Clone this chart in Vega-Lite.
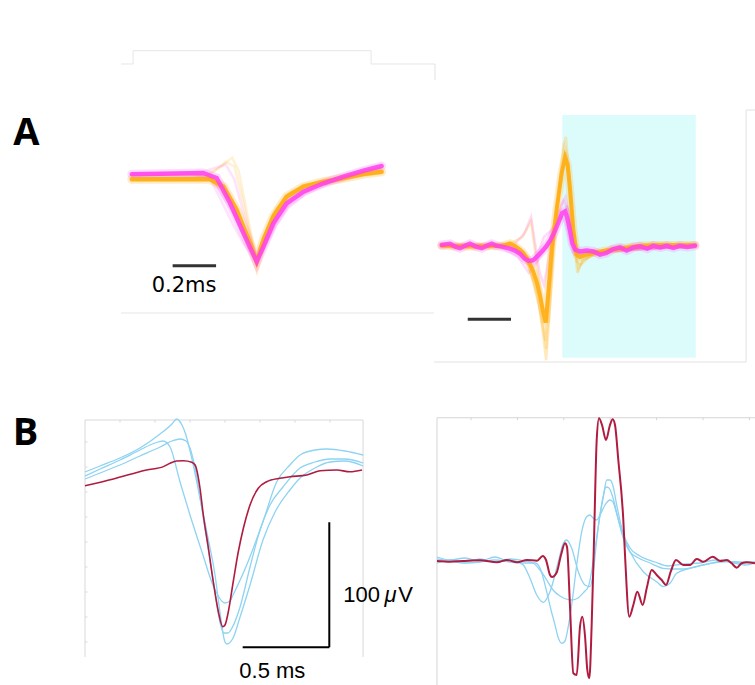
{
  "$schema": "https://vega.github.io/schema/vega-lite/v6.json",
  "padding": 0,
  "autosize": {"type": "pad"},
  "bounds": "flush",
  "spacing": 0,
  "columns": 2,
  "background": "white",
  "config": {"view": {"stroke": null}, "concat": {"spacing": 0}},
  "resolve": {"scale": {"x": "independent", "y": "independent"}},
  "datasets": {
    "a1_frame": [
      {"t": -0.581, "v": 1.429, "t2": 0.526, "v2": 1.429},
      {"t": -0.581, "v": 1.429, "t2": -0.581, "v2": 1.276},
      {"t": 0.526, "v": 1.429, "t2": 0.526, "v2": 1.276},
      {"t": -0.637, "v": 1.276, "t2": -0.581, "v2": 1.276},
      {"t": 0.526, "v": 1.276, "t2": 0.8186, "v2": 1.276},
      {"t": -0.637, "v": -1.586, "t2": 0.8186, "v2": -1.586}
    ],
    "a1_bar": [{"t": -0.397, "v": -1.043, "t2": -0.195, "v2": -1.043}],
    "a1_label": [{"label": "A", "t": -1.077, "v": 0.345}],
    "a1_text": [{"label": "0.2ms", "t": -0.344, "v": -1.341}],
    "a1_ofaint": [
      {"s": "o1", "t": -0.587, "v": -0.05}, {"s": "o1", "t": -0.3, "v": -0.04}, {"s": "o1", "t": -0.2, "v": 0.05}, {"s": "o1", "t": -0.15, "v": 0.15}, {"s": "o1", "t": -0.11, "v": 0.1}, {"s": "o1", "t": -0.07, "v": -0.3}, {"s": "o1", "t": -0.03, "v": -0.75}, {"s": "o1", "t": -0.006, "v": -0.97}, {"s": "o1", "t": 0.03, "v": -0.7}, {"s": "o1", "t": 0.08, "v": -0.4}, {"s": "o1", "t": 0.15, "v": -0.2}, {"s": "o1", "t": 0.25, "v": -0.1}, {"s": "o1", "t": 0.4, "v": -0.03}, {"s": "o1", "t": 0.575, "v": 0.04},
      {"s": "o2", "t": -0.587, "v": -0.04}, {"s": "o2", "t": -0.25, "v": -0.03}, {"s": "o2", "t": -0.17, "v": 0.1}, {"s": "o2", "t": -0.12, "v": 0.2}, {"s": "o2", "t": -0.09, "v": 0.05}, {"s": "o2", "t": -0.05, "v": -0.45}, {"s": "o2", "t": -0.006, "v": -0.99}, {"s": "o2", "t": 0.02, "v": -0.8}, {"s": "o2", "t": 0.06, "v": -0.55}, {"s": "o2", "t": 0.12, "v": -0.3}, {"s": "o2", "t": 0.2, "v": -0.14}, {"s": "o2", "t": 0.35, "v": -0.05}, {"s": "o2", "t": 0.575, "v": 0.03},
      {"s": "o3", "t": -0.587, "v": -0.06}, {"s": "o3", "t": -0.22, "v": -0.06}, {"s": "o3", "t": -0.16, "v": -0.12}, {"s": "o3", "t": -0.1, "v": -0.38}, {"s": "o3", "t": -0.05, "v": -0.7}, {"s": "o3", "t": -0.006, "v": -0.99}, {"s": "o3", "t": 0.025, "v": -0.72}, {"s": "o3", "t": 0.07, "v": -0.45}, {"s": "o3", "t": 0.13, "v": -0.24}, {"s": "o3", "t": 0.21, "v": -0.12}, {"s": "o3", "t": 0.32, "v": -0.06}, {"s": "o3", "t": 0.45, "v": -0.02}, {"s": "o3", "t": 0.575, "v": 0.02}
    ],
    "a1_pfaint": [
      {"s": "p1", "t": -0.587, "v": 0.01}, {"s": "p1", "t": -0.3, "v": 0.01}, {"s": "p1", "t": -0.22, "v": -0.05}, {"s": "p1", "t": -0.17, "v": -0.3}, {"s": "p1", "t": -0.12, "v": -0.55}, {"s": "p1", "t": -0.07, "v": -0.78}, {"s": "p1", "t": -0.006, "v": -0.99}, {"s": "p1", "t": 0.03, "v": -0.85}, {"s": "p1", "t": 0.08, "v": -0.6}, {"s": "p1", "t": 0.14, "v": -0.38}, {"s": "p1", "t": 0.22, "v": -0.22}, {"s": "p1", "t": 0.33, "v": -0.1}, {"s": "p1", "t": 0.45, "v": 0.01}, {"s": "p1", "t": 0.575, "v": 0.1},
      {"s": "p2", "t": -0.587, "v": 0.02}, {"s": "p2", "t": -0.28, "v": 0.02}, {"s": "p2", "t": -0.2, "v": 0.08}, {"s": "p2", "t": -0.15, "v": 0.12}, {"s": "p2", "t": -0.11, "v": -0.05}, {"s": "p2", "t": -0.06, "v": -0.5}, {"s": "p2", "t": -0.006, "v": -0.98}, {"s": "p2", "t": 0.03, "v": -0.82}, {"s": "p2", "t": 0.08, "v": -0.56}, {"s": "p2", "t": 0.14, "v": -0.34}, {"s": "p2", "t": 0.22, "v": -0.2}, {"s": "p2", "t": 0.33, "v": -0.09}, {"s": "p2", "t": 0.45, "v": 0.0}, {"s": "p2", "t": 0.575, "v": 0.09},
      {"s": "p3", "t": -0.587, "v": 0.0}, {"s": "p3", "t": -0.26, "v": 0.0}, {"s": "p3", "t": -0.2, "v": -0.1}, {"s": "p3", "t": -0.15, "v": -0.3}, {"s": "p3", "t": -0.1, "v": -0.5}, {"s": "p3", "t": -0.05, "v": -0.75}, {"s": "p3", "t": -0.006, "v": -1.0}, {"s": "p3", "t": 0.035, "v": -0.8}, {"s": "p3", "t": 0.09, "v": -0.5}, {"s": "p3", "t": 0.16, "v": -0.28}, {"s": "p3", "t": 0.26, "v": -0.14}, {"s": "p3", "t": 0.4, "v": -0.03}, {"s": "p3", "t": 0.575, "v": 0.08}
    ],
    "a1_orange": [
      {"t": -0.587, "v": -0.049}, {"t": -0.223, "v": -0.049}, {"t": -0.161, "v": -0.134}, {"t": -0.099, "v": -0.402}, {"t": -0.037, "v": -0.785}, {"t": -0.006, "v": -0.997}, {"t": 0.025, "v": -0.747}, {"t": 0.071, "v": -0.479}, {"t": 0.133, "v": -0.249}, {"t": 0.211, "v": -0.134}, {"t": 0.304, "v": -0.077}, {"t": 0.397, "v": -0.038}, {"t": 0.49, "v": 0.011}, {"t": 0.575, "v": 0.038}
    ],
    "a1_magenta": [
      {"t": -0.587, "v": 0.008}, {"t": -0.256, "v": 0.023}, {"t": -0.192, "v": -0.034}, {"t": -0.13, "v": -0.322}, {"t": -0.068, "v": -0.667}, {"t": -0.006, "v": -0.997}, {"t": 0.025, "v": -0.824}, {"t": 0.071, "v": -0.555}, {"t": 0.133, "v": -0.325}, {"t": 0.211, "v": -0.192}, {"t": 0.304, "v": -0.095}, {"t": 0.397, "v": -0.02}, {"t": 0.49, "v": 0.049}, {"t": 0.575, "v": 0.103}
    ],
    "a2_rect": [{"t": 0.605, "v": 1.625, "t2": 1.225, "v2": -1.409}],
    "a2_frame": [
      {"t": 0, "v": 2.2625, "t2": 0.0139, "v2": 2.2625},
      {"t": 0.0139, "v": 2.2625, "t2": 0.0139, "v2": 2.0625},
      {"t": 0.0046, "v": -0.85, "t2": 0.0046, "v2": -1.4625},
      {"t": 0.0046, "v": -1.4625, "t2": 1.4586, "v2": -1.4625},
      {"t": 1.4586, "v": 1.6875, "t2": 1.4586, "v2": -1.4625},
      {"t": 1.4586, "v": 1.6875, "t2": 1.5, "v2": 1.6875}
    ],
    "a2_bar": [{"t": 0.166, "v": -0.929, "t2": 0.367, "v2": -0.929}],
    "a2_ofaint": [
      {"s": "f1", "t": 0.045, "v": 0}, {"s": "f1", "t": 0.36, "v": 0}, {"s": "f1", "t": 0.44, "v": -0.2}, {"s": "f1", "t": 0.49, "v": -0.6}, {"s": "f1", "t": 0.515, "v": -1.1}, {"s": "f1", "t": 0.53, "v": -1.44}, {"s": "f1", "t": 0.545, "v": -0.9}, {"s": "f1", "t": 0.565, "v": 0.0}, {"s": "f1", "t": 0.59, "v": 0.7}, {"s": "f1", "t": 0.61, "v": 1.25}, {"s": "f1", "t": 0.622, "v": 1.35}, {"s": "f1", "t": 0.64, "v": 0.8}, {"s": "f1", "t": 0.66, "v": 0.1}, {"s": "f1", "t": 0.68, "v": -0.3}, {"s": "f1", "t": 0.7, "v": -0.2}, {"s": "f1", "t": 0.75, "v": -0.12}, {"s": "f1", "t": 0.9, "v": -0.05}, {"s": "f1", "t": 1.222, "v": 0},
      {"s": "f2", "t": 0.045, "v": 0.01}, {"s": "f2", "t": 0.38, "v": 0.01}, {"s": "f2", "t": 0.45, "v": -0.25}, {"s": "f2", "t": 0.5, "v": -0.8}, {"s": "f2", "t": 0.525, "v": -1.2}, {"s": "f2", "t": 0.55, "v": -0.4}, {"s": "f2", "t": 0.58, "v": 0.5}, {"s": "f2", "t": 0.61, "v": 1.0}, {"s": "f2", "t": 0.628, "v": 1.0}, {"s": "f2", "t": 0.65, "v": 0.3}, {"s": "f2", "t": 0.67, "v": -0.2}, {"s": "f2", "t": 0.69, "v": -0.25}, {"s": "f2", "t": 0.75, "v": -0.1}, {"s": "f2", "t": 1.222, "v": 0},
      {"s": "f3", "t": 0.045, "v": -0.01}, {"s": "f3", "t": 0.35, "v": 0.0}, {"s": "f3", "t": 0.42, "v": 0.1}, {"s": "f3", "t": 0.46, "v": 0.3}, {"s": "f3", "t": 0.48, "v": -0.1}, {"s": "f3", "t": 0.51, "v": -0.7}, {"s": "f3", "t": 0.53, "v": -1.3}, {"s": "f3", "t": 0.548, "v": -0.6}, {"s": "f3", "t": 0.57, "v": 0.2}, {"s": "f3", "t": 0.6, "v": 0.8}, {"s": "f3", "t": 0.62, "v": 1.15}, {"s": "f3", "t": 0.635, "v": 0.9}, {"s": "f3", "t": 0.655, "v": 0.2}, {"s": "f3", "t": 0.675, "v": -0.35}, {"s": "f3", "t": 0.7, "v": -0.18}, {"s": "f3", "t": 0.8, "v": -0.06}, {"s": "f3", "t": 1.222, "v": 0.0}
    ],
    "a2_pfaint": [
      {"s": "q1", "t": 0.045, "v": 0.0}, {"s": "q1", "t": 0.3, "v": 0.0}, {"s": "q1", "t": 0.4, "v": -0.15}, {"s": "q1", "t": 0.45, "v": -0.35}, {"s": "q1", "t": 0.48, "v": -0.25}, {"s": "q1", "t": 0.5, "v": -0.15}, {"s": "q1", "t": 0.54, "v": 0.0}, {"s": "q1", "t": 0.58, "v": 0.3}, {"s": "q1", "t": 0.61, "v": 0.55}, {"s": "q1", "t": 0.63, "v": 0.45}, {"s": "q1", "t": 0.65, "v": 0.05}, {"s": "q1", "t": 0.67, "v": -0.1}, {"s": "q1", "t": 0.72, "v": -0.08}, {"s": "q1", "t": 1.222, "v": -0.02},
      {"s": "q2", "t": 0.045, "v": 0.0}, {"s": "q2", "t": 0.35, "v": -0.02}, {"s": "q2", "t": 0.42, "v": -0.1}, {"s": "q2", "t": 0.46, "v": -0.22}, {"s": "q2", "t": 0.49, "v": -0.12}, {"s": "q2", "t": 0.52, "v": 0.1}, {"s": "q2", "t": 0.56, "v": 0.2}, {"s": "q2", "t": 0.6, "v": 0.35}, {"s": "q2", "t": 0.62, "v": 0.3}, {"s": "q2", "t": 0.645, "v": 0.0}, {"s": "q2", "t": 0.66, "v": -0.12}, {"s": "q2", "t": 0.7, "v": -0.1}, {"s": "q2", "t": 0.8, "v": -0.08}, {"s": "q2", "t": 1.222, "v": -0.02},
      {"s": "q3", "t": 0.045, "v": 0.0}, {"s": "q3", "t": 0.38, "v": 0.0}, {"s": "q3", "t": 0.43, "v": 0.15}, {"s": "q3", "t": 0.46, "v": 0.35}, {"s": "q3", "t": 0.48, "v": 0.0}, {"s": "q3", "t": 0.5, "v": -0.35}, {"s": "q3", "t": 0.52, "v": -0.5}, {"s": "q3", "t": 0.54, "v": -0.2}, {"s": "q3", "t": 0.57, "v": 0.2}, {"s": "q3", "t": 0.6, "v": 0.5}, {"s": "q3", "t": 0.62, "v": 0.6}, {"s": "q3", "t": 0.64, "v": 0.3}, {"s": "q3", "t": 0.66, "v": 0.0}, {"s": "q3", "t": 0.68, "v": -0.12}, {"s": "q3", "t": 0.75, "v": -0.08}, {"s": "q3", "t": 1.222, "v": -0.01}
    ],
    "a2_orange": [
      {"t": 0.045, "v": -0.01}, {"t": 0.13, "v": -0.02}, {"t": 0.231, "v": -0.02}, {"t": 0.324, "v": -0.01}, {"t": 0.362, "v": 0.02}, {"t": 0.39, "v": -0.02}, {"t": 0.409, "v": -0.06}, {"t": 0.425, "v": -0.1}, {"t": 0.44, "v": -0.16}, {"t": 0.455, "v": -0.24}, {"t": 0.47, "v": -0.33}, {"t": 0.486, "v": -0.46}, {"t": 0.502, "v": -0.64}, {"t": 0.517, "v": -0.85}, {"t": 0.528, "v": -0.97}, {"t": 0.54, "v": -0.6}, {"t": 0.556, "v": -0.05}, {"t": 0.579, "v": 0.45}, {"t": 0.602, "v": 0.9}, {"t": 0.618, "v": 1.1}, {"t": 0.63, "v": 1.0}, {"t": 0.641, "v": 0.7}, {"t": 0.656, "v": 0.2}, {"t": 0.672, "v": -0.12}, {"t": 0.687, "v": -0.15}, {"t": 0.72, "v": -0.12}, {"t": 0.749, "v": -0.1}, {"t": 0.827, "v": -0.06}, {"t": 0.904, "v": -0.03}, {"t": 0.966, "v": -0.01}, {"t": 1.028, "v": 0.0}, {"t": 1.121, "v": 0.0}, {"t": 1.222, "v": 0.0}
    ],
    "a2_magenta": [
      {"t": 0.045, "v": 0.0}, {"t": 0.084, "v": 0.015}, {"t": 0.107, "v": -0.02}, {"t": 0.13, "v": -0.04}, {"t": 0.153, "v": -0.01}, {"t": 0.176, "v": 0.015}, {"t": 0.204, "v": -0.02}, {"t": 0.231, "v": -0.04}, {"t": 0.254, "v": -0.01}, {"t": 0.277, "v": 0.015}, {"t": 0.3, "v": -0.01}, {"t": 0.324, "v": -0.02}, {"t": 0.362, "v": -0.045}, {"t": 0.385, "v": -0.07}, {"t": 0.409, "v": -0.11}, {"t": 0.43, "v": -0.17}, {"t": 0.45, "v": -0.2}, {"t": 0.47, "v": -0.19}, {"t": 0.49, "v": -0.14}, {"t": 0.51, "v": -0.08}, {"t": 0.53, "v": -0.02}, {"t": 0.55, "v": 0.06}, {"t": 0.57, "v": 0.17}, {"t": 0.59, "v": 0.3}, {"t": 0.605, "v": 0.4}, {"t": 0.618, "v": 0.42}, {"t": 0.63, "v": 0.32}, {"t": 0.641, "v": 0.18}, {"t": 0.652, "v": 0.02}, {"t": 0.665, "v": -0.06}, {"t": 0.687, "v": -0.08}, {"t": 0.718, "v": -0.07}, {"t": 0.749, "v": -0.08}, {"t": 0.78, "v": -0.12}, {"t": 0.81, "v": -0.1}, {"t": 0.841, "v": -0.05}, {"t": 0.873, "v": -0.03}, {"t": 0.904, "v": -0.07}, {"t": 0.935, "v": -0.03}, {"t": 0.966, "v": -0.015}, {"t": 1.0, "v": -0.045}, {"t": 1.028, "v": -0.01}, {"t": 1.06, "v": -0.03}, {"t": 1.09, "v": -0.01}, {"t": 1.121, "v": -0.035}, {"t": 1.15, "v": -0.01}, {"t": 1.185, "v": -0.025}, {"t": 1.222, "v": -0.01}
    ],
    "b1_frame": [
      {"t": 0, "v": 57.6, "t2": 1.589, "v2": 57.6},
      {"t": 0, "v": 57.6, "t2": 0, "v2": -132},
      {"t": 1.589, "v": 57.6, "t2": 1.589, "v2": -132},
      {"t": 0.2, "v": 57.6, "t2": 0.2, "v2": 55.6}, {"t": 0.4, "v": 57.6, "t2": 0.4, "v2": 55.6}, {"t": 0.6, "v": 57.6, "t2": 0.6, "v2": 55.6}, {"t": 0.8, "v": 57.6, "t2": 0.8, "v2": 55.6}, {"t": 1.0, "v": 57.6, "t2": 1.0, "v2": 55.6}, {"t": 1.2, "v": 57.6, "t2": 1.2, "v2": 55.6}, {"t": 1.4, "v": 57.6, "t2": 1.4, "v2": 55.6},
      {"t": 0, "v": 40, "t2": 0.014, "v2": 40}, {"t": 0, "v": 20, "t2": 0.014, "v2": 20}, {"t": 0, "v": 0, "t2": 0.014, "v2": 0}, {"t": 0, "v": -20, "t2": 0.014, "v2": -20}, {"t": 0, "v": -40, "t2": 0.014, "v2": -40}, {"t": 0, "v": -60, "t2": 0.014, "v2": -60}, {"t": 0, "v": -80, "t2": 0.014, "v2": -80}, {"t": 0, "v": -100, "t2": 0.014, "v2": -100}, {"t": 0, "v": -120, "t2": 0.014, "v2": -120}
    ],
    "b1_bar": [
      {"t": 0.901, "v": -124.2, "t2": 1.396, "v2": -124.2},
      {"t": 1.396, "v": -24.2, "t2": 1.396, "v2": -124.2}
    ],
    "b1_label": [{"label": "B", "t": -0.34, "v": 37.6}],
    "b1_text": [
      {"label": "100", "t": 1.476, "v": -87.8},
      {"label": "V", "t": 1.79, "v": -87.8},
      {"label": "0.5 ms", "t": 0.882, "v": -148.5}
    ],
    "b1_italic": [{"label": "μ", "t": 1.712, "v": -87.8}],
    "b1_blue": [
      {"s": "A", "t": 0, "v": 16}, {"s": "A", "t": 0.086, "v": 20.8}, {"s": "A", "t": 0.2, "v": 27.2}, {"s": "A", "t": 0.314, "v": 35.2}, {"s": "A", "t": 0.429, "v": 46.4}, {"s": "A", "t": 0.497, "v": 54.4}, {"s": "A", "t": 0.524, "v": 58.4}, {"s": "A", "t": 0.554, "v": 53.6}, {"s": "A", "t": 0.571, "v": 48}, {"s": "A", "t": 0.61, "v": 27.2}, {"s": "A", "t": 0.657, "v": -4.8}, {"s": "A", "t": 0.703, "v": -36.8}, {"s": "A", "t": 0.743, "v": -66.4}, {"s": "A", "t": 0.771, "v": -96}, {"s": "A", "t": 0.8, "v": -120}, {"s": "A", "t": 0.811, "v": -121.6}, {"s": "A", "t": 0.846, "v": -116.8}, {"s": "A", "t": 0.886, "v": -100}, {"s": "A", "t": 0.943, "v": -74.4}, {"s": "A", "t": 1.017, "v": -38.4}, {"s": "A", "t": 1.086, "v": -16}, {"s": "A", "t": 1.171, "v": 1.6}, {"s": "A", "t": 1.229, "v": 11.2}, {"s": "A", "t": 1.314, "v": 19.2}, {"s": "A", "t": 1.4, "v": 24}, {"s": "A", "t": 1.486, "v": 24.8}, {"s": "A", "t": 1.589, "v": 20.8},
      {"s": "B", "t": 0, "v": 12.8}, {"s": "B", "t": 0.086, "v": 18.4}, {"s": "B", "t": 0.2, "v": 25.6}, {"s": "B", "t": 0.314, "v": 33.6}, {"s": "B", "t": 0.4, "v": 39.2}, {"s": "B", "t": 0.446, "v": 40.8}, {"s": "B", "t": 0.486, "v": 36}, {"s": "B", "t": 0.543, "v": 8}, {"s": "B", "t": 0.6, "v": -18.4}, {"s": "B", "t": 0.674, "v": -50.4}, {"s": "B", "t": 0.731, "v": -74.4}, {"s": "B", "t": 0.8, "v": -88.8}, {"s": "B", "t": 0.829, "v": -87.2}, {"s": "B", "t": 0.846, "v": -82.4}, {"s": "B", "t": 0.924, "v": -58.4}, {"s": "B", "t": 1.017, "v": -23.8}, {"s": "B", "t": 1.095, "v": 8}, {"s": "B", "t": 1.171, "v": 21.6}, {"s": "B", "t": 1.229, "v": 29.6}, {"s": "B", "t": 1.314, "v": 33.6}, {"s": "B", "t": 1.383, "v": 34.4}, {"s": "B", "t": 1.486, "v": 32.8}, {"s": "B", "t": 1.589, "v": 29.6},
      {"s": "C", "t": 0, "v": 10.4}, {"s": "C", "t": 0.086, "v": 15.2}, {"s": "C", "t": 0.2, "v": 21.6}, {"s": "C", "t": 0.314, "v": 28.8}, {"s": "C", "t": 0.429, "v": 36}, {"s": "C", "t": 0.497, "v": 40.8}, {"s": "C", "t": 0.543, "v": 42.4}, {"s": "C", "t": 0.577, "v": 40.8}, {"s": "C", "t": 0.6, "v": 35.2}, {"s": "C", "t": 0.629, "v": 19.2}, {"s": "C", "t": 0.667, "v": -12.8}, {"s": "C", "t": 0.703, "v": -44.8}, {"s": "C", "t": 0.743, "v": -80}, {"s": "C", "t": 0.771, "v": -104}, {"s": "C", "t": 0.794, "v": -112.8}, {"s": "C", "t": 0.817, "v": -112.8}, {"s": "C", "t": 0.84, "v": -108.8}, {"s": "C", "t": 0.886, "v": -92}, {"s": "C", "t": 0.943, "v": -60}, {"s": "C", "t": 1.0, "v": -30.4}, {"s": "C", "t": 1.057, "v": -10.4}, {"s": "C", "t": 1.131, "v": 4}, {"s": "C", "t": 1.229, "v": 19.2}, {"s": "C", "t": 1.314, "v": 24}, {"s": "C", "t": 1.4, "v": 26.4}, {"s": "C", "t": 1.486, "v": 26.4}, {"s": "C", "t": 1.589, "v": 23.2}
    ],
    "b1_red": [
      {"t": 0, "v": 5.0}, {"t": 0.162, "v": 10.4}, {"t": 0.352, "v": 17.6}, {"t": 0.448, "v": 20.3}, {"t": 0.486, "v": 23}, {"t": 0.524, "v": 24.8}, {"t": 0.562, "v": 25}, {"t": 0.61, "v": 23.8}, {"t": 0.629, "v": 21.6}, {"t": 0.657, "v": 3.2}, {"t": 0.676, "v": -18.4}, {"t": 0.705, "v": -44.8}, {"t": 0.733, "v": -71.8}, {"t": 0.762, "v": -95.8}, {"t": 0.787, "v": -107.8}, {"t": 0.8, "v": -106.4}, {"t": 0.819, "v": -95.8}, {"t": 0.847, "v": -71.8}, {"t": 0.876, "v": -47.8}, {"t": 0.905, "v": -29}, {"t": 0.943, "v": -10.4}, {"t": 0.99, "v": 3}, {"t": 1.038, "v": 8.2}, {"t": 1.114, "v": 11}, {"t": 1.171, "v": 12.2}, {"t": 1.267, "v": 13.6}, {"t": 1.343, "v": 17}, {"t": 1.438, "v": 17.6}, {"t": 1.514, "v": 16.2}, {"t": 1.583, "v": 17.6}
    ],
    "b2_frame": [
      {"t": 0.0534, "v": 115.4, "t2": 1.4241, "v2": 115.4},
      {"t": 0.0534, "v": 115.4, "t2": 0.0534, "v2": -98.4},
      {"t": 0.2, "v": 115.4, "t2": 0.2, "v2": 113.4}, {"t": 0.4, "v": 115.4, "t2": 0.4, "v2": 113.4}, {"t": 0.6, "v": 115.4, "t2": 0.6, "v2": 113.4}, {"t": 0.8, "v": 115.4, "t2": 0.8, "v2": 113.4}, {"t": 1.0, "v": 115.4, "t2": 1.0, "v2": 113.4}, {"t": 1.2, "v": 115.4, "t2": 1.2, "v2": 113.4}, {"t": 1.4, "v": 115.4, "t2": 1.4, "v2": 113.4}
    ],
    "b2_blue": [
      {"s": "D", "t": 0.0534, "v": 2.4}, {"s": "D", "t": 0.1099, "v": 0.8}, {"s": "D", "t": 0.1741, "v": -0.8}, {"s": "D", "t": 0.2388, "v": 0}, {"s": "D", "t": 0.3034, "v": 1.6}, {"s": "D", "t": 0.3681, "v": 0}, {"s": "D", "t": 0.4328, "v": -0.8}, {"s": "D", "t": 0.4759, "v": -0.8}, {"s": "D", "t": 0.4974, "v": -4.8}, {"s": "D", "t": 0.5263, "v": -23.76}, {"s": "D", "t": 0.5448, "v": -38.4}, {"s": "D", "t": 0.5621, "v": -50.4}, {"s": "D", "t": 0.575, "v": -60}, {"s": "D", "t": 0.5909, "v": -65.04}, {"s": "D", "t": 0.6052, "v": -63.2}, {"s": "D", "t": 0.6181, "v": -52.8}, {"s": "D", "t": 0.634, "v": -34.4}, {"s": "D", "t": 0.6556, "v": -2.4}, {"s": "D", "t": 0.6772, "v": 24.24}, {"s": "D", "t": 0.6987, "v": 36.24}, {"s": "D", "t": 0.7129, "v": 37.6}, {"s": "D", "t": 0.7259, "v": 35.2}, {"s": "D", "t": 0.7418, "v": 33.6}, {"s": "D", "t": 0.756, "v": 37.6}, {"s": "D", "t": 0.7776, "v": 45.6}, {"s": "D", "t": 0.7991, "v": 49.6}, {"s": "D", "t": 0.8108, "v": 48.24}, {"s": "D", "t": 0.8293, "v": 37.6}, {"s": "D", "t": 0.8565, "v": 18.96}, {"s": "D", "t": 0.8853, "v": 8}, {"s": "D", "t": 0.9142, "v": 4}, {"s": "D", "t": 0.9716, "v": -0.8}, {"s": "D", "t": 1.0289, "v": -5.04}, {"s": "D", "t": 1.0707, "v": -5.6}, {"s": "D", "t": 1.1151, "v": -5.6}, {"s": "D", "t": 1.1655, "v": -4}, {"s": "D", "t": 1.216, "v": -1.84}, {"s": "D", "t": 1.2875, "v": 0.8}, {"s": "D", "t": 1.3595, "v": -0.8}, {"s": "D", "t": 1.4241, "v": 0},
      {"s": "E", "t": 0.0534, "v": 4}, {"s": "E", "t": 0.1099, "v": 1.6}, {"s": "E", "t": 0.1741, "v": 3.2}, {"s": "E", "t": 0.2388, "v": 0.8}, {"s": "E", "t": 0.3034, "v": 4}, {"s": "E", "t": 0.3466, "v": 1.6}, {"s": "E", "t": 0.3897, "v": 0.8}, {"s": "E", "t": 0.4254, "v": -2.4}, {"s": "E", "t": 0.4543, "v": -13.04}, {"s": "E", "t": 0.4832, "v": -26.4}, {"s": "E", "t": 0.5116, "v": -32.24}, {"s": "E", "t": 0.5405, "v": -23.76}, {"s": "E", "t": 0.5763, "v": 0.24}, {"s": "E", "t": 0.5966, "v": 14.4}, {"s": "E", "t": 0.6125, "v": 17.6}, {"s": "E", "t": 0.6341, "v": 10.96}, {"s": "E", "t": 0.6625, "v": -7.76}, {"s": "E", "t": 0.6914, "v": -18.4}, {"s": "E", "t": 0.7129, "v": -19.76}, {"s": "E", "t": 0.7272, "v": -8}, {"s": "E", "t": 0.7418, "v": 17.6}, {"s": "E", "t": 0.756, "v": 37.6}, {"s": "E", "t": 0.7703, "v": 52}, {"s": "E", "t": 0.7849, "v": 65.6}, {"s": "E", "t": 0.7991, "v": 65.6}, {"s": "E", "t": 0.8121, "v": 60.8}, {"s": "E", "t": 0.828, "v": 45.6}, {"s": "E", "t": 0.8552, "v": 23.2}, {"s": "E", "t": 0.8853, "v": 11.2}, {"s": "E", "t": 0.9284, "v": 4.8}, {"s": "E", "t": 0.9931, "v": 0}, {"s": "E", "t": 1.0491, "v": -3.2}, {"s": "E", "t": 1.1138, "v": -1.6}, {"s": "E", "t": 1.1871, "v": -0.8}, {"s": "E", "t": 1.2517, "v": 1.6}, {"s": "E", "t": 1.3164, "v": 0}, {"s": "E", "t": 1.381, "v": -2.4}, {"s": "E", "t": 1.4241, "v": -0.8},
      {"s": "F", "t": 0.0534, "v": -0.8}, {"s": "F", "t": 0.1099, "v": 1.6}, {"s": "F", "t": 0.1741, "v": 0}, {"s": "F", "t": 0.2388, "v": 2.4}, {"s": "F", "t": 0.3034, "v": 0}, {"s": "F", "t": 0.3681, "v": 2.4}, {"s": "F", "t": 0.4328, "v": 0.8}, {"s": "F", "t": 0.4672, "v": -0.8}, {"s": "F", "t": 0.4974, "v": -6.4}, {"s": "F", "t": 0.5263, "v": -14.4}, {"s": "F", "t": 0.5534, "v": -22.4}, {"s": "F", "t": 0.5836, "v": -27.2}, {"s": "F", "t": 0.6095, "v": -29.6}, {"s": "F", "t": 0.634, "v": -30.4}, {"s": "F", "t": 0.6612, "v": -28.8}, {"s": "F", "t": 0.6871, "v": -24}, {"s": "F", "t": 0.7056, "v": -19.76}, {"s": "F", "t": 0.7172, "v": -10.4}, {"s": "F", "t": 0.7272, "v": 1.6}, {"s": "F", "t": 0.7431, "v": 21.6}, {"s": "F", "t": 0.756, "v": 37.6}, {"s": "F", "t": 0.769, "v": 52}, {"s": "F", "t": 0.7819, "v": 60}, {"s": "F", "t": 0.7948, "v": 59.2}, {"s": "F", "t": 0.8121, "v": 51.2}, {"s": "F", "t": 0.8336, "v": 35.2}, {"s": "F", "t": 0.8496, "v": 24.24}, {"s": "F", "t": 0.8853, "v": 8.24}, {"s": "F", "t": 0.9427, "v": -7.76}, {"s": "F", "t": 1.0004, "v": -15.76}, {"s": "F", "t": 1.0289, "v": -19.76}, {"s": "F", "t": 1.0578, "v": -17.04}, {"s": "F", "t": 1.0866, "v": -9.04}, {"s": "F", "t": 1.144, "v": -5.04}, {"s": "F", "t": 1.2302, "v": -1.04}, {"s": "F", "t": 1.3164, "v": 0.24}, {"s": "F", "t": 1.4241, "v": -0.24}
    ],
    "b2_red": [
      {"t": 0.0534, "v": 0.8}, {"t": 0.1099, "v": 0.24}, {"t": 0.1655, "v": 0.8}, {"t": 0.2388, "v": 1.36}, {"t": 0.3121, "v": -0.24}, {"t": 0.3552, "v": 1.6}, {"t": 0.3983, "v": -0.24}, {"t": 0.4414, "v": 1.6}, {"t": 0.4845, "v": 1.04}, {"t": 0.509, "v": 4.8}, {"t": 0.5233, "v": 1.6}, {"t": 0.5405, "v": -10.4}, {"t": 0.5491, "v": -12}, {"t": 0.5694, "v": -8.4}, {"t": 0.5879, "v": 5.6}, {"t": 0.6052, "v": 14.96}, {"t": 0.6138, "v": 12}, {"t": 0.6267, "v": -35.76}, {"t": 0.641, "v": -89.04}, {"t": 0.6556, "v": -90.4}, {"t": 0.6698, "v": -51.76}, {"t": 0.6797, "v": -43.76}, {"t": 0.6914, "v": -59.2}, {"t": 0.7013, "v": -86.4}, {"t": 0.7099, "v": -93.04}, {"t": 0.7203, "v": -49.04}, {"t": 0.7302, "v": 17.6}, {"t": 0.7418, "v": 97.6}, {"t": 0.7517, "v": 114.96}, {"t": 0.7647, "v": 109.6}, {"t": 0.7819, "v": 97.6}, {"t": 0.7991, "v": 109.6}, {"t": 0.8108, "v": 114.16}, {"t": 0.8207, "v": 109.6}, {"t": 0.8349, "v": 81.6}, {"t": 0.8565, "v": 33.6}, {"t": 0.8638, "v": 5.6}, {"t": 0.8823, "v": -43.76}, {"t": 0.8996, "v": -34.4}, {"t": 0.9168, "v": -23.76}, {"t": 0.9401, "v": -34.4}, {"t": 0.9573, "v": -21.04}, {"t": 0.9789, "v": -6.4}, {"t": 1.0004, "v": -10.4}, {"t": 1.022, "v": -14.4}, {"t": 1.0405, "v": -18.4}, {"t": 1.0608, "v": -7.76}, {"t": 1.0836, "v": 1.6}, {"t": 1.1151, "v": -2.4}, {"t": 1.144, "v": -2.4}, {"t": 1.1728, "v": 2.4}, {"t": 1.2013, "v": 0.24}, {"t": 1.2418, "v": 4.24}, {"t": 1.2733, "v": 0.8}, {"t": 1.3022, "v": 1.6}, {"t": 1.3237, "v": -1.04}, {"t": 1.3453, "v": -4.56}, {"t": 1.3668, "v": -1.04}, {"t": 1.3884, "v": -0.24}, {"t": 1.4241, "v": -1.04}
    ]
  },
  "concat": [
    {
      "width": 434, "height": 400,
      "encoding": {
        "x": {"field": "t", "type": "quantitative", "scale": {"domain": [-1.2, 0.8186], "nice": false, "zero": false}, "axis": null},
        "y": {"field": "v", "type": "quantitative", "scale": {"domain": [-2.5862, 2.0115], "nice": false, "zero": false}, "axis": null}
      },
      "layer": [
        {"data": {"name": "a1_frame"}, "mark": {"type": "rule", "color": "#e6e6e6", "strokeWidth": 1, "clip": true}, "encoding": {"x2": {"field": "t2"}, "y2": {"field": "v2"}}},
        {"data": {"name": "a1_ofaint"}, "mark": {"type": "line", "color": "#ffbb30", "strokeWidth": 2.5, "opacity": 0.2, "clip": true}, "encoding": {"detail": {"field": "s"}}},
        {"data": {"name": "a1_pfaint"}, "mark": {"type": "line", "color": "#ff70f0", "strokeWidth": 2.5, "opacity": 0.2, "clip": true}, "encoding": {"detail": {"field": "s"}}},
        {"data": {"name": "a1_orange"}, "mark": {"type": "line", "color": "#ffb020", "strokeWidth": 9, "opacity": 0.25, "strokeCap": "round", "clip": true}, "encoding": {}},
        {"data": {"name": "a1_magenta"}, "mark": {"type": "line", "color": "#ff50ee", "strokeWidth": 9, "opacity": 0.2, "strokeCap": "round", "clip": true}, "encoding": {}},
        {"data": {"name": "a1_orange"}, "mark": {"type": "line", "color": "#ffad10", "strokeWidth": 4.5, "opacity": 0.9, "strokeCap": "round", "clip": true}, "encoding": {}},
        {"data": {"name": "a1_magenta"}, "mark": {"type": "line", "color": "#ff40ee", "strokeWidth": 4.5, "opacity": 0.85, "strokeCap": "round", "clip": true}, "encoding": {}},
        {"data": {"name": "a1_bar"}, "mark": {"type": "rule", "color": "#333333", "strokeWidth": 3, "clip": true}, "encoding": {"x2": {"field": "t2"}, "y2": {"field": "v2"}}},
        {"data": {"name": "a1_label"}, "mark": {"type": "text", "font": "Open Sans", "fontWeight": "bold", "fontSize": 38, "align": "center", "baseline": "alphabetic", "color": "black", "clip": true}, "encoding": {"text": {"field": "label"}}},
        {"data": {"name": "a1_text"}, "mark": {"type": "text", "font": "DejaVu Sans", "fontSize": 21, "align": "center", "baseline": "alphabetic", "color": "black", "clip": true}, "encoding": {"text": {"field": "label"}}}
      ]
    },
    {
      "width": 321, "height": 400,
      "encoding": {
        "x": {"field": "t", "type": "quantitative", "scale": {"domain": [0.0093, 1.5], "nice": false, "zero": false}, "axis": null},
        "y": {"field": "v", "type": "quantitative", "scale": {"domain": [-1.9375, 3.0625], "nice": false, "zero": false}, "axis": null}
      },
      "layer": [
        {"data": {"name": "a2_rect"}, "mark": {"type": "rect", "color": "#dcfcfc", "clip": true}, "encoding": {"x2": {"field": "t2"}, "y2": {"field": "v2"}}},
        {"data": {"name": "a2_frame"}, "mark": {"type": "rule", "color": "#e2e2e2", "strokeWidth": 1, "clip": true}, "encoding": {"x2": {"field": "t2"}, "y2": {"field": "v2"}}},
        {"data": {"name": "a2_ofaint"}, "mark": {"type": "line", "color": "#ffbb30", "strokeWidth": 2.5, "opacity": 0.3, "clip": true}, "encoding": {"detail": {"field": "s"}}},
        {"data": {"name": "a2_pfaint"}, "mark": {"type": "line", "color": "#ff70f0", "strokeWidth": 2.5, "opacity": 0.25, "clip": true}, "encoding": {"detail": {"field": "s"}}},
        {"data": {"name": "a2_orange"}, "mark": {"type": "line", "color": "#ffb020", "strokeWidth": 8, "opacity": 0.25, "strokeCap": "round", "clip": true}, "encoding": {}},
        {"data": {"name": "a2_magenta"}, "mark": {"type": "line", "color": "#ff50ee", "strokeWidth": 9, "opacity": 0.2, "strokeCap": "round", "clip": true}, "encoding": {}},
        {"data": {"name": "a2_orange"}, "mark": {"type": "line", "color": "#ffad10", "strokeWidth": 4, "opacity": 0.9, "strokeCap": "round", "clip": true}, "encoding": {}},
        {"data": {"name": "a2_magenta"}, "mark": {"type": "line", "color": "#ff40ee", "strokeWidth": 4.5, "opacity": 0.85, "strokeCap": "round", "clip": true}, "encoding": {}},
        {"data": {"name": "a2_bar"}, "mark": {"type": "rule", "color": "#333333", "strokeWidth": 3, "clip": true}, "encoding": {"x2": {"field": "t2"}, "y2": {"field": "v2"}}}
      ]
    },
    {
      "width": 434, "height": 285,
      "encoding": {
        "x": {"field": "t", "type": "quantitative", "scale": {"domain": [-0.4857, 1.9943], "nice": false, "zero": false}, "axis": null},
        "y": {"field": "v", "type": "quantitative", "scale": {"domain": [-154.4, 73.6], "nice": false, "zero": false}, "axis": null}
      },
      "layer": [
        {"data": {"name": "b1_frame"}, "mark": {"type": "rule", "color": "#d9d9d9", "strokeWidth": 1, "clip": true}, "encoding": {"x2": {"field": "t2"}, "y2": {"field": "v2"}}},
        {"data": {"name": "b1_blue"}, "mark": {"type": "line", "color": "#8ed3f2", "strokeWidth": 1.3, "interpolate": "monotone", "clip": true}, "encoding": {"detail": {"field": "s"}}},
        {"data": {"name": "b1_red"}, "mark": {"type": "line", "color": "#b01c40", "strokeWidth": 1.6, "interpolate": "monotone", "clip": true}, "encoding": {}},
        {"data": {"name": "b1_bar"}, "mark": {"type": "rule", "color": "black", "strokeWidth": 2, "clip": true}, "encoding": {"x2": {"field": "t2"}, "y2": {"field": "v2"}}},
        {"data": {"name": "b1_label"}, "mark": {"type": "text", "font": "Open Sans", "fontWeight": "bold", "fontSize": 38, "align": "center", "baseline": "alphabetic", "color": "black", "clip": true}, "encoding": {"text": {"field": "label"}}},
        {"data": {"name": "b1_text"}, "mark": {"type": "text", "font": "Liberation Sans", "fontSize": 22, "align": "left", "baseline": "alphabetic", "color": "black", "clip": true}, "encoding": {"text": {"field": "label"}}},
        {"data": {"name": "b1_italic"}, "mark": {"type": "text", "font": "Liberation Sans", "fontStyle": "italic", "fontSize": 22, "align": "left", "baseline": "alphabetic", "color": "black", "clip": true}, "encoding": {"text": {"field": "label"}}}
      ]
    },
    {
      "width": 321, "height": 285,
      "encoding": {
        "x": {"field": "t", "type": "quantitative", "scale": {"domain": [0.0405, 1.4241], "nice": false, "zero": false}, "axis": null},
        "y": {"field": "v", "type": "quantitative", "scale": {"domain": [-98.4, 129.6], "nice": false, "zero": false}, "axis": null}
      },
      "layer": [
        {"data": {"name": "b2_frame"}, "mark": {"type": "rule", "color": "#d5d5d5", "strokeWidth": 1, "clip": true}, "encoding": {"x2": {"field": "t2"}, "y2": {"field": "v2"}}},
        {"data": {"name": "b2_blue"}, "mark": {"type": "line", "color": "#8ed3f2", "strokeWidth": 1.3, "interpolate": "monotone", "clip": true}, "encoding": {"detail": {"field": "s"}}},
        {"data": {"name": "b2_red"}, "mark": {"type": "line", "color": "#b01c40", "strokeWidth": 2, "interpolate": "monotone", "clip": true}, "encoding": {}}
      ]
    }
  ]
}
